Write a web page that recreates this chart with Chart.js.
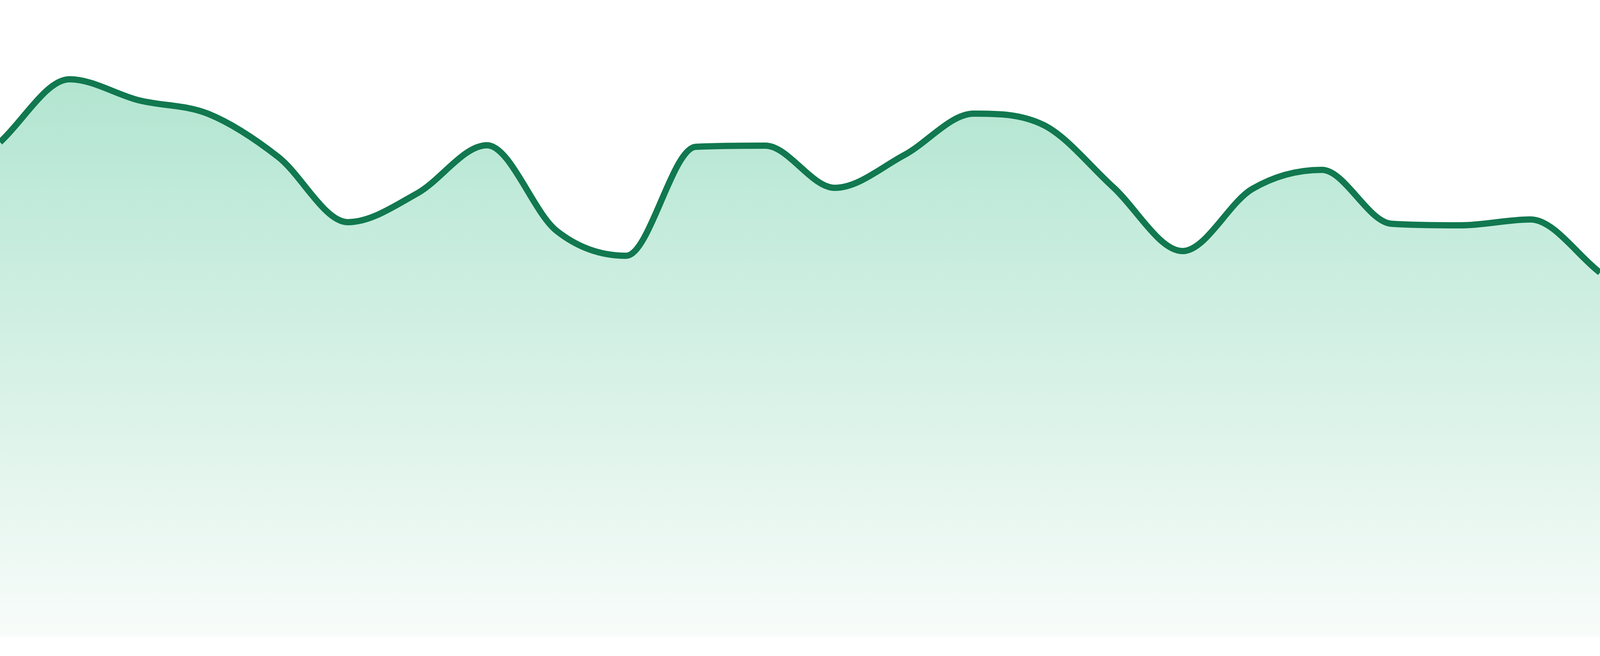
<!DOCTYPE html>
<html>
<head>
<meta charset="utf-8">
<title>Area chart</title>
<script src="https://cdn.jsdelivr.net/npm/chart.js@4.4.1/dist/chart.umd.min.js"></script>
<style>
  html, body { margin: 0; padding: 0; background: #fff; overflow: hidden; }
  #wrap { width: 100vw; height: 100vh; position: relative; }
</style>
</head>
<body>
<div id="wrap"><canvas id="area-chart"></canvas></div>
<script>
// categories (one per point, evenly spaced across the width)
const labels = ['1', '2', '3', '4', '5', '6', '7', '8', '9', '10', '11', '12',
  '13', '14', '15', '16', '17', '18', '19', '20', '21', '22', '23', '24'];

// series values
const values = [1268, 1429, 1375, 1340, 1230, 1063, 1137, 1260, 1041, 977, 1256, 1259,
  1151, 1235, 1341, 1312, 1153, 989, 1148, 1197, 1059, 1055, 1070, 934];

const yMin = 0;
const yMax = 1632;

// the reference is 1680 px tall; scale line width and bottom gap to the viewport
const s = window.innerHeight / 1680;

const ctx = document.getElementById('area-chart').getContext('2d');

// eslint-disable-next-line no-unused-vars
const chart = new Chart(ctx, {
  type: 'line',
  data: {
    labels: labels,
    datasets: [
      {
        data: values,
        borderColor: '#11784f',
        borderWidth: 16 * s,
        pointRadius: 0,
        cubicInterpolationMode: 'monotone',
        fill: 'start',
        backgroundColor: (c) => {
          const area = c.chart.chartArea;
          if (!area) return 'rgba(172,227,205,1)';
          const g = c.chart.ctx.createLinearGradient(0, area.top, 0, area.bottom);
          g.addColorStop(0, 'rgb(168,226,203)');
          g.addColorStop(1, 'rgb(248,252,250)');
          return g;
        },
      },
    ],
  },
  options: {
    responsive: true,
    maintainAspectRatio: false,
    animation: false,
    layout: { padding: { top: 0, left: 0, right: 0, bottom: 48 * s } },
    plugins: {
      legend: { display: false },
      tooltip: { enabled: false },
    },
    scales: {
      x: { display: false, offset: false },
      y: { display: false, min: yMin, max: yMax },
    },
  },
});
</script>
</body>
</html>
